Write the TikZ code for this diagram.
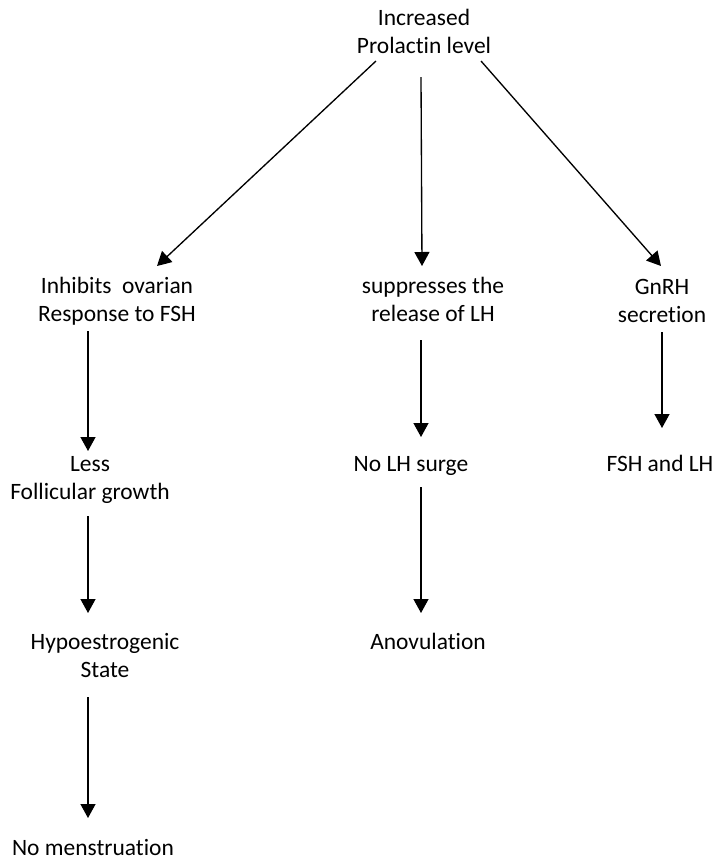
\documentclass[tikz,border=0pt]{standalone}
\usepackage{fontspec}
\setmainfont{Carlito}[Ligatures={NoCommon}]
\usetikzlibrary{arrows.meta,calc}
\begin{document}
\begin{tikzpicture}[x=0.75pt,y=-0.75pt,
  lbl/.style={inner sep=0pt, anchor=base, align=center,
    font=\fontsize{17.6}{21}\selectfont},
  arr/.style={line width=1pt, -{Triangle[width=11.25pt,length=10.5pt]}}]
\useasboundingbox (0,0) rectangle (717,861);

% labels (position = baseline of the last line)
\node[lbl] (prl)   at (424,53)  {Increased\\Prolactin level};
\node[lbl] (ovar)  at (117,321) {Inhibits~ ovarian\\Response to FSH};
\node[lbl] (supp)  at (433,321) {suppresses the\\release of LH};
\node[lbl] (gnrh)  at (662,322) {GnRH\\secretion};
\node[lbl] (less)  at (90,499)  {Less\\Follicular growth};
\node[lbl] (nolh)  at (411,471) {No LH surge};
\node[lbl] (fsh)   at (660,471) {FSH and LH};
\node[lbl] (hypo)  at (105,677) {Hypoestrogenic\\State};
\node[lbl] (anov)  at (428,649) {Anovulation};
\node[lbl] (nomen) at (93,855)  {No menstruation};

% connectors
\draw[arr] ($(prl.base)+(-48,8)$)   -- ($(ovar.base)+(40,-55)$);
\draw[arr] ($(prl.base)+(-3,24)$)   -- ($(supp.base)+(-11,-55)$);
\draw[arr] ($(prl.base)+(57,8)$)    -- ($(gnrh.base)+(-1,-56)$);
\draw[arr] ($(ovar.base)+(-29,10)$) -- ($(less.base)+(-2,-48)$);
\draw[arr] ($(less.base)+(-2,17)$)  -- ($(hypo.base)+(-17,-64)$);
\draw[arr] ($(hypo.base)+(-17,20)$) -- ($(nomen.base)+(-5,-37)$);
\draw[arr] ($(supp.base)+(-12,19)$) -- ($(nolh.base)+(10,-34)$);
\draw[arr] ($(nolh.base)+(10,16)$)  -- ($(anov.base)+(-7,-36)$);
\draw[arr] ($(gnrh.base)+(0,10)$)   -- ($(fsh.base)+(2,-43)$);
\end{tikzpicture}
\end{document}
